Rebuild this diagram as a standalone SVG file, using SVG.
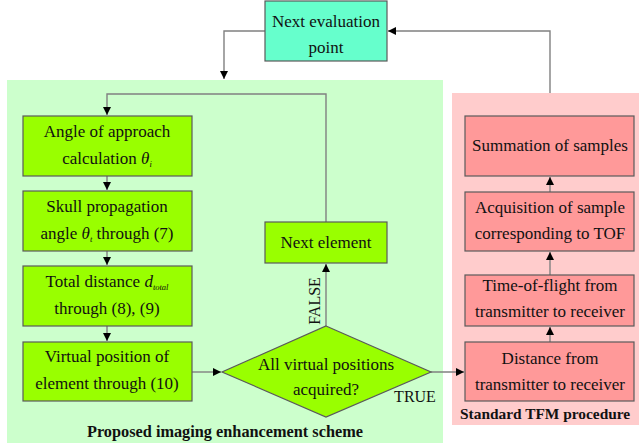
<svg xmlns="http://www.w3.org/2000/svg" width="639" height="448" viewBox="0 0 639 448">
<defs>
<marker id="ah" viewBox="0 0 10 10" refX="10" refY="5" markerWidth="8" markerHeight="8" markerUnits="userSpaceOnUse" orient="auto">
<path d="M0,0 L10,5 L0,10 z" fill="#000"/>
</marker>
<style>
text{font-size:17px;fill:#111;text-anchor:middle}
.b{font-weight:bold;font-size:16.3px}
.g{fill:#99ff00;stroke:#5a5a5a;stroke-width:1.2}
.r{fill:#ff9999;stroke:#5a5a5a;stroke-width:1.2}
.c{fill:#66ffcc;stroke:#5a5a5a;stroke-width:1.2}
.ar{fill:none;stroke:#808080;stroke-width:1.4;marker-end:url(#ah)}
.sub{font-size:8.5px;font-style:italic}
.it{font-style:italic}
.lbl{font-size:16px}
</style>
</defs>
<rect x="0" y="0" width="639" height="448" fill="#fff"/>
<g font-family="'Liberation Serif', 'DejaVu Serif', serif">
<g id="panel-proposed">
<rect x="7" y="80" width="436" height="363" fill="#ccffcc"/>
<text class="b" x="225" y="437">Proposed imaging enhancement scheme</text>
</g>
<g id="panel-tfm">
<rect x="452" y="93" width="190" height="332" fill="#ffcccc"/>
<text class="b" x="460" y="419" style="text-anchor:start;font-size:15.4px">Standard TFM procedure</text>
</g>
<g id="connectors">
<polyline class="ar" points="326,222 326,94 107,94 107,115"/>
<line class="ar" x1="107" y1="176" x2="107" y2="190"/>
<line class="ar" x1="107" y1="251" x2="107" y2="265"/>
<line class="ar" x1="107" y1="326" x2="107" y2="341"/>
<line class="ar" x1="192" y1="372" x2="221" y2="372"/>
<line class="ar" x1="326" y1="326" x2="326" y2="264"/>
<line class="ar" x1="431" y1="372" x2="464" y2="372"/>
<line class="ar" x1="550" y1="342" x2="550" y2="327"/>
<line class="ar" x1="550" y1="275" x2="550" y2="252"/>
<line class="ar" x1="550" y1="192" x2="550" y2="177"/>
<polyline class="ar" points="550,93 550,31 388,31"/>
<polyline class="ar" points="265,31 224,31 224,79"/>
<text class="lbl" x="320" y="301" transform="rotate(-90 320 301)">FALSE</text>
<text class="lbl" x="415" y="402">TRUE</text>
</g>
<g id="next-eval">
<rect class="c" x="265" y="1" width="122" height="60"/>
<text x="326" y="27">Next evaluation</text>
<text x="326" y="53">point</text>
</g>
<g id="angle-approach">
<rect class="g" x="23" y="116" width="169" height="60"/>
<text x="107" y="137">Angle of approach</text>
<text x="107" y="164">calculation <tspan class="it">θ</tspan><tspan class="sub" dy="3">i</tspan></text>
</g>
<g id="skull-prop">
<rect class="g" x="23" y="191" width="169" height="60"/>
<text x="107" y="212">Skull propagation</text>
<text x="107" y="239">angle <tspan class="it">θ</tspan><tspan class="sub" dy="3">t</tspan><tspan dy="-3"> through (7)</tspan></text>
</g>
<g id="total-dist">
<rect class="g" x="23" y="266" width="169" height="60"/>
<text x="107" y="287">Total distance <tspan class="it">d</tspan><tspan class="sub" dy="3">total</tspan></text>
<text x="107" y="314">through (8), (9)</text>
</g>
<g id="virtual-pos">
<rect class="g" x="23" y="342" width="169" height="59"/>
<text x="107" y="362">Virtual position of</text>
<text x="107" y="389">element through (10)</text>
</g>
<g id="next-element">
<rect class="g" x="265" y="222" width="122" height="41"/>
<text x="326" y="248">Next element</text>
</g>
<g id="decision">
<polygon class="g" points="326,326 431,372 326,417 222,372"/>
<text x="326" y="370">All virtual positions</text>
<text x="326" y="395">acquired?</text>
</g>
<g id="summation">
<rect class="r" x="465" y="116" width="169" height="60"/>
<text x="550" y="151">Summation of samples</text>
</g>
<g id="acquisition">
<rect class="r" x="465" y="192" width="169" height="59"/>
<text x="550" y="213">Acquisition of sample</text>
<text x="550" y="239">corresponding to TOF</text>
</g>
<g id="tof">
<rect class="r" x="465" y="275" width="169" height="51"/>
<text x="550" y="291">Time-of-flight from</text>
<text x="550" y="317">transmitter to receiver</text>
</g>
<g id="distance">
<rect class="r" x="465" y="342" width="169" height="59"/>
<text x="550" y="364">Distance from</text>
<text x="550" y="390">transmitter to receiver</text>
</g>
</g>
</svg>
